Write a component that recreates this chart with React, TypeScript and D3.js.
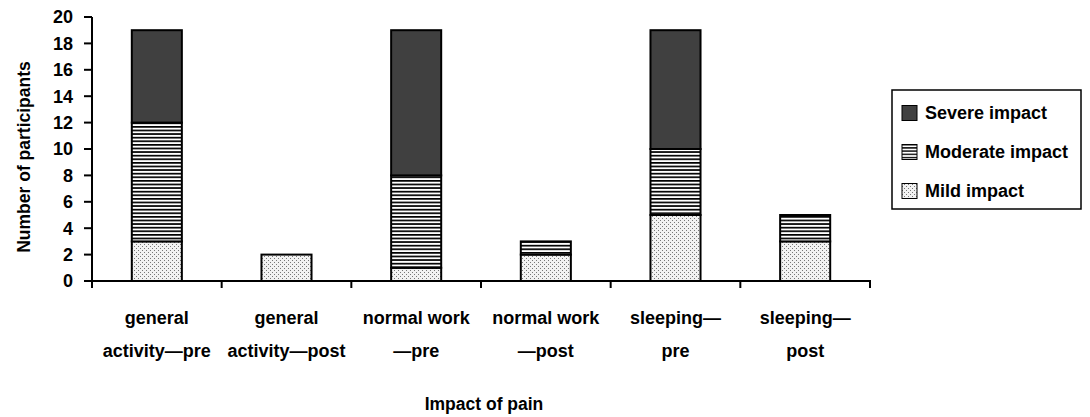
import React from "react";
import * as d3 from "d3";

const categories = [
  "general activity—pre",
  "general activity—post",
  "normal work—pre",
  "normal work—post",
  "sleeping—pre",
  "sleeping—post",
];
const tickLines = [
  ["general", "activity—pre"],
  ["general", "activity—post"],
  ["normal work", "—pre"],
  ["normal work", "—post"],
  ["sleeping—", "pre"],
  ["sleeping—", "post"],
];
const mild = [3, 2, 1, 2, 5, 3];
const moderate = [9, 0, 7, 1, 5, 2];
const severe = [7, 0, 11, 0, 9, 0];
const seriesKeys = ["mild", "moderate", "severe"];
const legendLabels = ["Severe impact", "Moderate impact", "Mild impact"];
const yTicks = d3.range(0, 21, 2);

const W = 1090;
const H = 417;
const font = "'Liberation Sans', Arial, sans-serif";

export default function App() {
  const rows = categories.map((c, i) => ({
    cat: c,
    mild: mild[i],
    moderate: moderate[i],
    severe: severe[i],
  }));
  const stacked = d3.stack<any>().keys(seriesKeys)(rows);

  const x = d3
    .scaleBand()
    .domain(categories)
    .range([92, 870])
    .paddingInner(0.614)
    .paddingOuter(0.307);
  const y = d3.scaleLinear().domain([0, 20]).range([281, 17]);

  const step = x.step();
  const boundaries = d3.range(categories.length + 1).map((i) => 92 + i * step);

  const fills: Record<string, string> = {
    mild: "url(#dots)",
    moderate: "url(#stripes)",
    severe: "#404040",
  };
  const legendFill = ["#404040", "url(#stripesSmall)", "url(#dots)"];

  return (
    <svg
      width={W}
      height={H}
      style={{ position: "absolute", left: 0, top: 0, background: "#fff" }}
      fontFamily={font}
      fontWeight="bold"
    >
      <defs>
        <pattern id="stripes" width={8} height={3.6} patternUnits="userSpaceOnUse">
          <rect width={8} height={3.6} fill="#fff" />
          <rect width={8} height={1.7} fill="#000" />
        </pattern>
        <pattern id="stripesSmall" width={8} height={3.2} patternUnits="userSpaceOnUse">
          <rect width={8} height={3.2} fill="#fff" />
          <rect width={8} height={1.4} fill="#000" />
        </pattern>
        <pattern id="dots" width={4} height={4} patternUnits="userSpaceOnUse">
          <rect width={4} height={4} fill="#f2f2f2" />
          <rect x={0} y={0} width={1} height={1} fill="#777" />
          <rect x={2} y={2} width={1} height={1} fill="#777" />
        </pattern>
      </defs>

      {/* bars */}
      {stacked.map((s) => (
        <g key={s.key}>
          {s.map((d, i) =>
            d[1] - d[0] > 0 ? (
              <rect
                key={i}
                x={x(categories[i])!}
                y={y(d[1])}
                width={x.bandwidth()}
                height={y(d[0]) - y(d[1])}
                fill={fills[s.key]}
                stroke="#000"
                strokeWidth={2}
              />
            ) : null
          )}
        </g>
      ))}

      {/* y axis */}
      <line x1={92} x2={92} y1={17} y2={288} stroke="#000" strokeWidth={2} />
      {yTicks.map((t) => (
        <g key={t}>
          <line x1={84} x2={92} y1={y(t)} y2={y(t)} stroke="#000" strokeWidth={2} />
          <text
            x={73}
            y={y(t)}
            dy="0.36em"
            textAnchor="end"
            fontSize={18}
            fill="#000"
          >
            {t}
          </text>
        </g>
      ))}
      <text
        transform={`translate(30,157) rotate(-90)`}
        textAnchor="middle"
        fontSize={17.5}
        fill="#000"
      >
        Number of participants
      </text>

      {/* x axis */}
      <line x1={92} x2={871} y1={281} y2={281} stroke="#000" strokeWidth={2} />
      {boundaries.map((b, i) => (
        <line key={i} x1={b} x2={b} y1={281} y2={288} stroke="#000" strokeWidth={2} />
      ))}
      {categories.map((c, i) => (
        <text
          key={c}
          x={x(c)! + x.bandwidth() / 2}
          textAnchor="middle"
          fontSize={18}
          fill="#000"
        >
          <tspan x={x(c)! + x.bandwidth() / 2} y={324}>
            {tickLines[i][0]}
          </tspan>
          <tspan x={x(c)! + x.bandwidth() / 2} y={357}>
            {tickLines[i][1]}
          </tspan>
        </text>
      ))}
      <text x={484} y={410} textAnchor="middle" fontSize={17.5} fill="#000">
        Impact of pain
      </text>

      {/* legend */}
      <rect x={892} y={90} width={189} height={119} fill="#fff" stroke="#000" strokeWidth={1.5} />
      {legendLabels.map((l, i) => {
        const cy = 113 + i * 39;
        return (
          <g key={l}>
            <rect
              x={902}
              y={cy - 7.5}
              width={15}
              height={15}
              fill={legendFill[i]}
              stroke="#000"
              strokeWidth={1}
            />
            <text x={925} y={cy} dy="0.36em" fontSize={18} fill="#000">
              {l}
            </text>
          </g>
        );
      })}
    </svg>
  );
}
